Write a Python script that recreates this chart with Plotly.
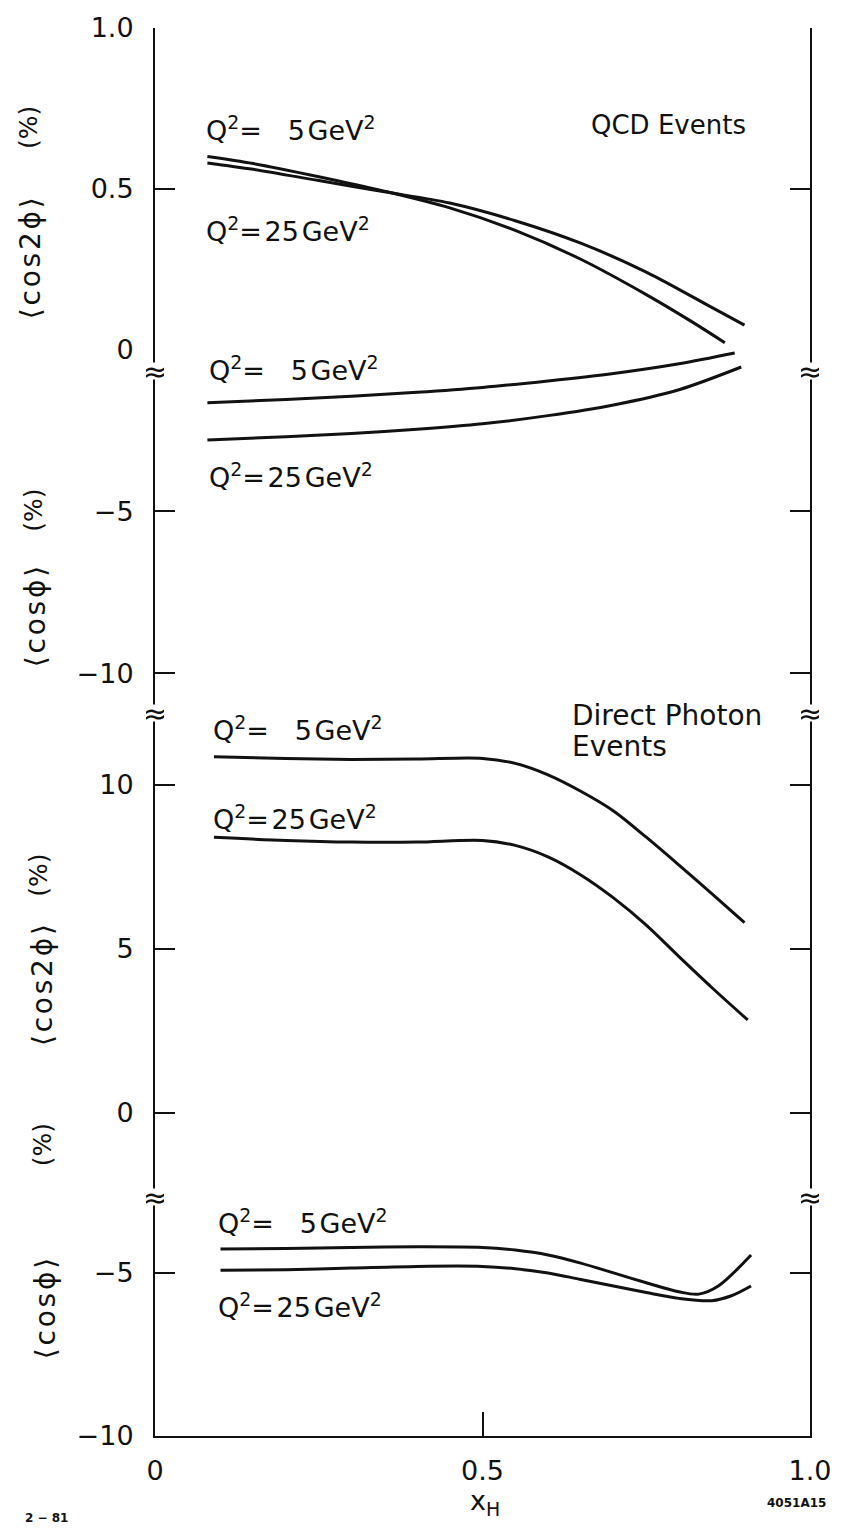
import plotly.graph_objects as go

# ---- data: x_H and curve values -------------------------------------------
# QCD events, <cos 2phi> (%)
qcd_c2_x_q5 = [0.08, 0.15, 0.25, 0.35, 0.45, 0.55, 0.65, 0.75, 0.82, 0.87]
qcd_c2_y_q5 = [0.600, 0.578, 0.537, 0.492, 0.440, 0.370, 0.280, 0.170, 0.085, 0.020]
qcd_c2_x_q25 = [0.08, 0.15, 0.25, 0.35, 0.45, 0.55, 0.65, 0.75, 0.85, 0.90]
qcd_c2_y_q25 = [0.580, 0.560, 0.525, 0.490, 0.455, 0.400, 0.330, 0.240, 0.130, 0.075]

# QCD events, <cos phi> (%)
qcd_c1_x_q5 = [0.08, 0.2, 0.3, 0.4, 0.5, 0.6, 0.7, 0.8, 0.885]
qcd_c1_y_q5 = [-1.65, -1.55, -1.45, -1.33, -1.18, -0.98, -0.75, -0.45, -0.12]
qcd_c1_x_q25 = [0.08, 0.2, 0.3, 0.4, 0.5, 0.6, 0.7, 0.8, 0.895]
qcd_c1_y_q25 = [-2.80, -2.70, -2.60, -2.47, -2.30, -2.05, -1.72, -1.25, -0.55]

# Direct photon events, <cos 2phi> (%)
dp_c2_x_q5 = [0.09, 0.2, 0.3, 0.4, 0.5, 0.55, 0.6, 0.65, 0.7, 0.75, 0.8, 0.85, 0.9]
dp_c2_y_q5 = [10.85, 10.80, 10.77, 10.78, 10.80, 10.65, 10.30, 9.80, 9.20, 8.40, 7.55, 6.68, 5.80]
dp_c2_x_q25 = [0.09, 0.2, 0.3, 0.4, 0.5, 0.55, 0.6, 0.65, 0.7, 0.75, 0.8, 0.85, 0.905]
dp_c2_y_q25 = [8.40, 8.30, 8.25, 8.25, 8.30, 8.15, 7.80, 7.25, 6.55, 5.72, 4.76, 3.82, 2.83]

# Direct photon events, <cos phi> (%)
dp_c1_x_q5 = [0.1, 0.2, 0.3, 0.4, 0.5, 0.55, 0.6, 0.65, 0.7, 0.75, 0.8, 0.83, 0.86, 0.91]
dp_c1_y_q5 = [-4.27, -4.25, -4.22, -4.20, -4.22, -4.30, -4.45, -4.70, -5.00, -5.30, -5.58, -5.65, -5.40, -4.45]
dp_c1_x_q25 = [0.1, 0.2, 0.3, 0.4, 0.5, 0.55, 0.6, 0.65, 0.7, 0.75, 0.8, 0.85, 0.88, 0.91]
dp_c1_y_q25 = [-4.92, -4.90, -4.85, -4.80, -4.80, -4.87, -5.00, -5.20, -5.40, -5.60, -5.78, -5.85, -5.70, -5.40]

x_ticks = [0, 0.5, 1.0]
x_tick_text = ["0", "0.5", "1.0"]

# ---- page geometry (pixels) ------------------------------------------------
W, H = 843, 1532
L, R, T, B = 155, 813, 20, 1436


def px(x):
    return (x - L) / (R - L)


def py(y):
    return (B - y) / (B - T)


FONT = "DejaVu Sans, Liberation Sans, sans-serif"
INK = "#111111"

fig = go.Figure()

line = dict(color=INK, width=3, shape="spline", smoothing=0.9)
series = [
    (qcd_c2_x_q5, qcd_c2_y_q5, "y"),
    (qcd_c2_x_q25, qcd_c2_y_q25, "y"),
    (qcd_c1_x_q5, qcd_c1_y_q5, "y2"),
    (qcd_c1_x_q25, qcd_c1_y_q25, "y2"),
    (dp_c2_x_q5, dp_c2_y_q5, "y3"),
    (dp_c2_x_q25, dp_c2_y_q25, "y3"),
    (dp_c1_x_q5, dp_c1_y_q5, "y4"),
    (dp_c1_x_q25, dp_c1_y_q25, "y4"),
]
for xs, ys, ya in series:
    fig.add_trace(go.Scatter(x=xs, y=ys, mode="lines", line=line,
                             xaxis="x", yaxis=ya, showlegend=False,
                             hoverinfo="skip"))

yax_common = dict(
    showline=True, linecolor=INK, linewidth=2, mirror="ticks",
    ticks="inside", ticklen=20, tickwidth=2, tickcolor=INK,
    showgrid=False, zeroline=False, anchor="x",
    tickfont=dict(family=FONT, size=27, color=INK),
    ticklabelstandoff=14,
)

fig.update_layout(
    width=W, height=H,
    margin=dict(l=L, r=W - R, t=T, b=H - B, pad=0),
    paper_bgcolor="white", plot_bgcolor="white",
    xaxis=dict(
        domain=[0, 1], range=[0, 1.0], anchor="y4",
        showline=True, linecolor=INK, linewidth=2,
        ticks="inside", ticklen=24, tickwidth=2, tickcolor=INK,
        tickvals=x_ticks, ticktext=x_tick_text,
        tickfont=dict(family=FONT, size=27, color=INK),
        ticklabelstandoff=10,
        showgrid=False, zeroline=False,
    ),
    xaxis2=dict(
        domain=[0, 1], range=[0, 1.0], anchor="y", side="top",
        overlaying="x", matches="x",
        showline=True, linecolor=INK, linewidth=2,
        ticks="inside", ticklen=22, tickwidth=2, tickcolor=INK,
        tickvals=[0.5], showticklabels=False,
        showgrid=False, zeroline=False,
    ),
    yaxis=dict(domain=[py(343), 1.0], range=[0, 1.0],
               tickvals=[0, 0.5, 1.0], ticktext=["0", "0.5", "1.0"],
               **yax_common),
    yaxis2=dict(domain=[py(708), py(343)],
                range=[-10 - (708 - 669) / 32.6, 0],
                tickvals=[-5, -10], ticktext=["\u22125", "\u221210"],
                **yax_common),
    yaxis3=dict(domain=[py(1196), py(708)],
                range=[-(1196 - 1111) / 33.0, 10 + (781 - 708) / 33.0],
                tickvals=[0, 5, 10], ticktext=["0", "5", "10"],
                **yax_common),
    yaxis4=dict(domain=[0, py(1196)],
                range=[-10, -5 + (1272 - 1196) / 32.8],
                tickvals=[-10, -5], ticktext=["\u221210", "\u22125"],
                **yax_common),
)

ann = []


def text(x, y, s, size=27, xanchor="left", angle=0, bold=False, bg=None,
         **kw):
    d = dict(x=px(x), y=py(y), xref="paper", yref="paper", text=s,
             showarrow=False, xanchor=xanchor, yanchor="middle",
             textangle=angle,
             font=dict(family=FONT, size=size, color=INK))
    if bold:
        d["text"] = "<b>" + s + "</b>"
    if bg:
        d["bgcolor"] = bg
    d.update(kw)
    ann.append(d)


NB = "\u00a0"
HS = "\u200a"
q5 = "Q<sup>2</sup>=" + NB * 3 + "5" + HS + "GeV<sup>2</sup>"
q25 = "Q<sup>2</sup>=" + HS + "25" + HS + "GeV<sup>2</sup>"

# curve labels
text(204, 121, q5)
text(204, 223, q25)
text(207, 362, q5)
text(207, 470, q25)
text(211, 724, q5)
text(211, 814, q25)
text(216, 1220, q5)
text(216, 1305, q25)

# panel titles
text(591, 118, "QCD" + NB + "Events", size=26)
text(572, 711, "Direct" + NB + "Photon", size=28)
text(572, 743, "Events", size=28)

# y-axis titles (rotated)
pct_size = 25
name_size = 28
cos2 = HS.join(["\u27e8", "c", "o", "s", "2", "\u03d5", "\u27e9"])
cos1 = HS.join(["\u27e8", "c", "o", "s", "\u03d5", "\u27e9"])
text(28, 120, "(%)", size=pct_size, xanchor="center", angle=-90)
text(30, 252, cos2, size=name_size, xanchor="center", angle=-90)
text(33, 505, "(%)", size=pct_size, xanchor="center", angle=-90)
text(35, 612, cos1, size=name_size, xanchor="center", angle=-90)
text(38, 872, "(%)", size=pct_size, xanchor="center", angle=-90)
text(42, 983, cos2, size=name_size, xanchor="center", angle=-90)
text(42, 1143, "(%)", size=pct_size, xanchor="center", angle=-90)
text(45, 1308, cos1, size=name_size, xanchor="center", angle=-90)

# axis break marks on both vertical edges
for yb in (365, 709, 1196):
    for xb in (L, R):
        text(xb, yb, "\u2248", size=30, xanchor="center", bg="white",
             height=16, width=18, borderpad=0)

# x-axis title and plate markings
text(487, 1503, "x<sub>H</sub>", size=27, xanchor="center")
text(22, 1518, "2 \u2212 81", size=12, bold=True)
text(768, 1503, "4051A15", size=12, bold=True)

fig.update_layout(annotations=ann)
fig.write_html("out.html")
